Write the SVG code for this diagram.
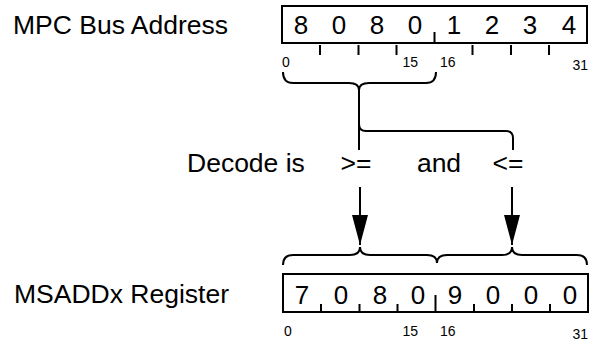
<svg xmlns="http://www.w3.org/2000/svg" width="590" height="342" viewBox="0 0 590 342">
<style>
text{font-family:"Liberation Sans",Arial,Helvetica,sans-serif;fill:#000}
.big{font-size:26.5px}
.dig{font-size:26px;text-anchor:middle}
.sm{font-size:14px}
.box{fill:none;stroke:#000;stroke-width:2}
.tick{stroke:#000;stroke-width:2}
.ln{fill:none;stroke:#000;stroke-width:2}
</style>
<defs>
<marker id="arr" viewBox="0 0 30 16" refX="30" refY="8" markerWidth="30" markerHeight="16" markerUnits="userSpaceOnUse" orient="auto">
<path d="M0,0 L30,8 L0,16 z" fill="#000"/>
</marker>
</defs>
<rect width="590" height="342" fill="#fff"/>

<g id="mpc-label"><text class="big" x="13" y="34">MPC Bus Address</text></g>

<g id="mpc-bus">
<rect class="box" x="282" y="6" width="305" height="37"/>
<text class="dig" x="301" y="33.5">8</text>
<text class="dig" x="339" y="33.5">0</text>
<text class="dig" x="377" y="33.5">8</text>
<text class="dig" x="415" y="33.5">0</text>
<text class="dig" x="454" y="33.5">1</text>
<text class="dig" x="492" y="33.5">2</text>
<text class="dig" x="530" y="33.5">3</text>
<text class="dig" x="569" y="33.5">4</text>
<path class="tick" d="M434.5,32 V43 M320,45 V55 M358.5,45 V55 M396.5,45 V55 M472.5,45 V55 M511,45 V55 M549,45 V55"/>
<text class="sm" x="282" y="67">0</text>
<text class="sm" x="418" y="67" text-anchor="end">15</text>
<text class="sm" x="440" y="67">16</text>
<text class="sm" x="588" y="70" text-anchor="end">31</text>
</g>

<g id="decode">
<text class="big" x="187" y="172">Decode is</text>
<text class="big" x="356" y="172" text-anchor="middle">&gt;=</text>
<text class="big" x="439" y="172" text-anchor="middle">and</text>
<text class="big" x="508" y="172" text-anchor="middle">&lt;=</text>
</g>

<g id="connectors">
<path class="ln" d="M283,72 Q283,83 293,83 L349,83 Q359,83 359,90 Q359,83 369,83 L426,83 Q436,83 436,72"/>
<path class="ln" d="M359,90 L359,150 M359,124 Q359,131 366,131 L506,131 Q513,131 513,138 L513,150"/>
<path class="ln" d="M360,187 L360,245" marker-end="url(#arr)"/>
<path class="ln" d="M512,187 L512,245" marker-end="url(#arr)"/>
<path class="ln" d="M283,265 Q283,255 293,255 L350,255 Q360,255 360,247 Q360,255 370,255 L427,255 Q437,255 437,263 Q437,255 447,255 L502,255 Q512,255 512,247 Q512,255 522,255 L577,255 Q587,255 587,265"/>
</g>

<g id="msadd-label"><text class="big" x="14" y="303">MSADDx Register</text></g>

<g id="msadd-reg">
<rect class="box" x="283" y="274" width="305" height="38"/>
<text class="dig" x="302" y="304">7</text>
<text class="dig" x="341" y="304">0</text>
<text class="dig" x="380" y="304">8</text>
<text class="dig" x="418" y="304">0</text>
<text class="dig" x="455" y="304">9</text>
<text class="dig" x="493" y="304">0</text>
<text class="dig" x="531" y="304">0</text>
<text class="dig" x="570" y="304">0</text>
<path class="tick" d="M321,304 V312 M359.5,304 V312 M397.5,304 V312 M435.5,295 V312 M474,304 V312 M512,304 V312 M550,304 V312"/>
<text class="sm" x="284" y="336">0</text>
<text class="sm" x="418" y="336" text-anchor="end">15</text>
<text class="sm" x="440" y="336">16</text>
<text class="sm" x="588" y="339" text-anchor="end">31</text>
</g>
</svg>
